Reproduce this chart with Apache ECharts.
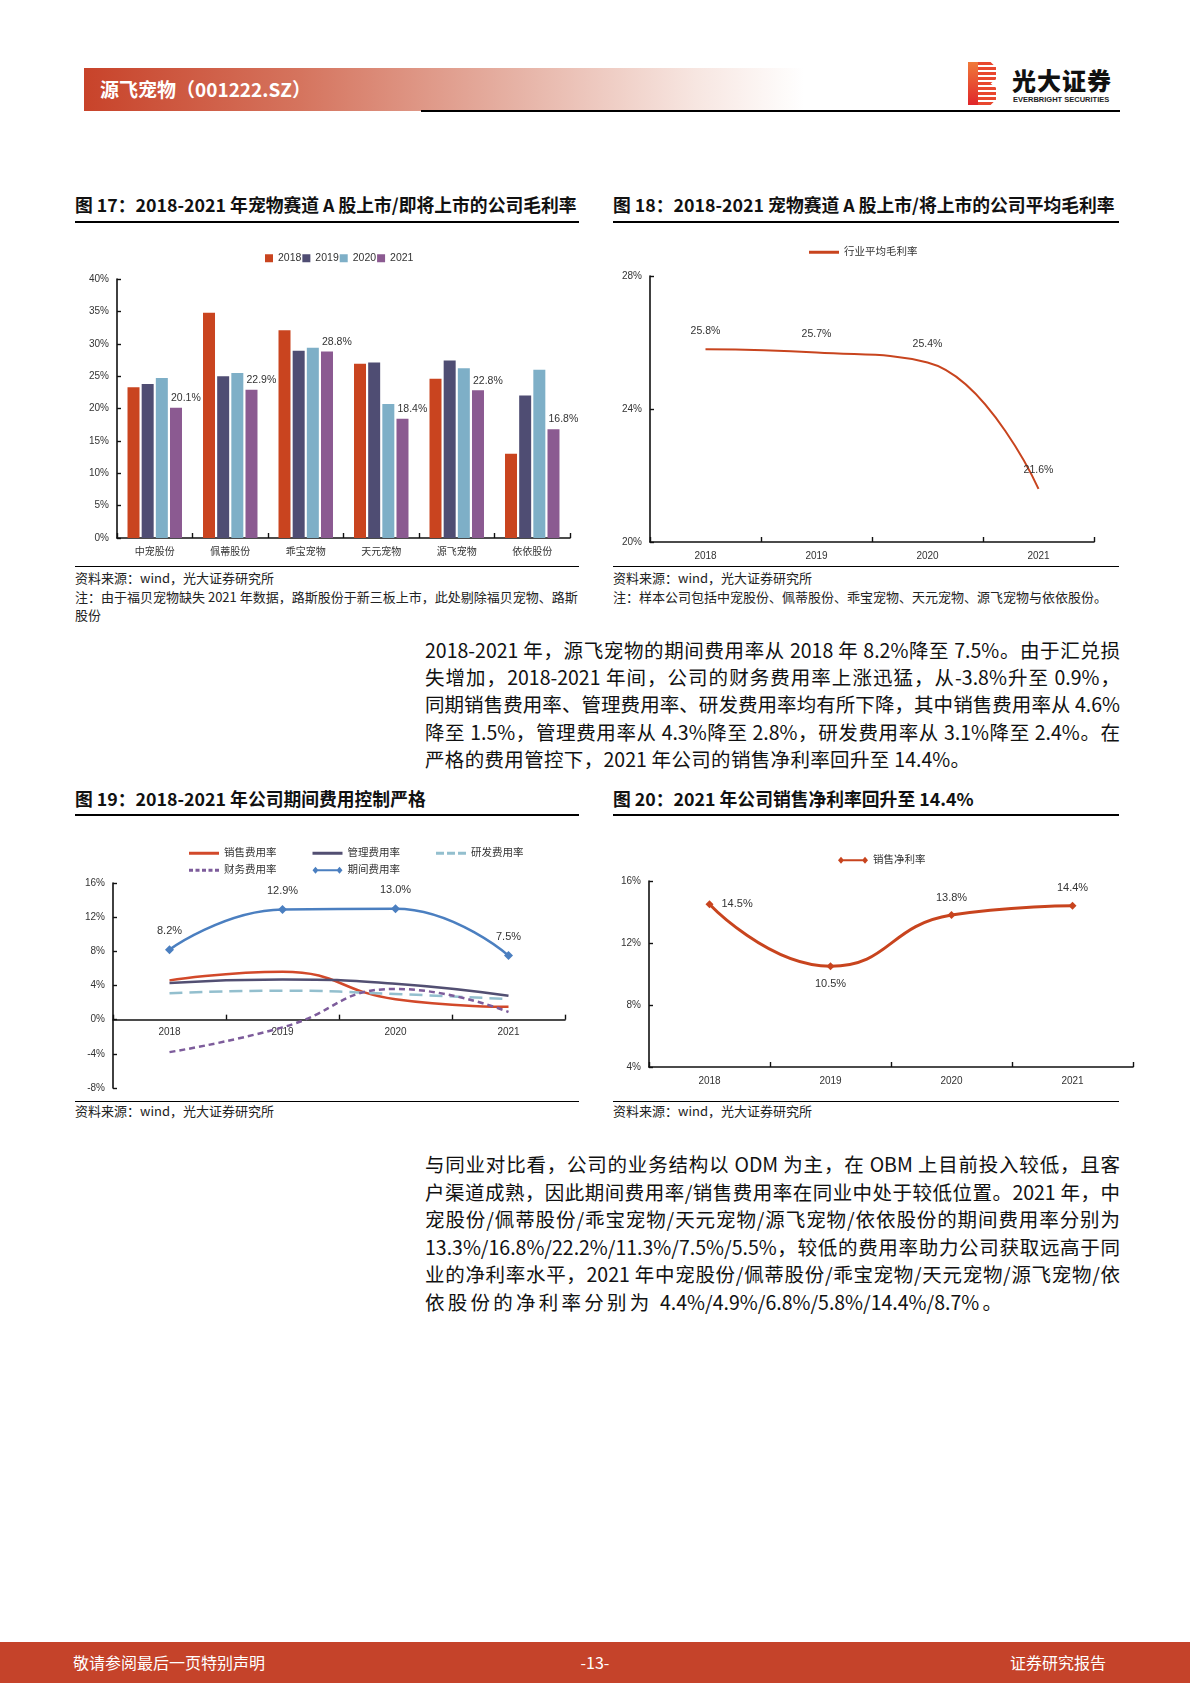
<!DOCTYPE html>
<html><head><meta charset="utf-8">
<script src="https://cdn.jsdelivr.net/npm/echarts@6/dist/echarts.min.js"></script>
<style>
body{margin:0;background:#fff;width:1190px;height:1683px;position:relative;overflow:hidden;font-family:"Noto Sans CJK SC","Noto Sans",sans-serif;color:#000}
.abs{position:absolute}
.title{position:absolute;font-weight:bold;font-size:17.8px;line-height:20px;white-space:nowrap;color:#111}
.rule{position:absolute;height:1.5px;background:#000}
.src{position:absolute;font-size:13px;line-height:16px;color:#222;white-space:nowrap}
.p{position:absolute;left:425px;width:695px;font-size:19.5px;line-height:24px;white-space:nowrap;text-align:justify;text-align-last:justify;color:#111}
.chart{position:absolute}
</style></head>
<body>
<!-- header -->
<div class="abs" style="left:84px;top:68px;width:720px;height:43px;background:linear-gradient(to right,#C8432A 0%,#D5745E 30%,#E6B2A5 60%,#F7E6E1 85%,rgba(255,255,255,0) 100%)"></div>
<div class="abs" style="left:100px;top:77px;font-size:19px;line-height:24px;font-weight:bold;color:#fff;white-space:nowrap">源飞宠物（001222.SZ）</div>
<div class="abs" style="left:421px;top:110px;width:699px;height:2px;background:#000"></div>
<div class="abs" style="left:968px;top:62px;width:10px;height:43px;background:linear-gradient(to bottom,#F07A3A,#E0262A)"></div>
<div class="abs" style="left:978px;top:62px;width:18px;height:43px;background:repeating-linear-gradient(to bottom,#E8472E 0px,#E8472E 3px,#fff 3px,#fff 5px);clip-path:polygon(0 0,70% 0,100% 12%,100% 40%,70% 50%,100% 60%,100% 88%,70% 100%,0 100%)"></div>
<div class="abs" style="left:1012px;top:66px;font-size:24px;line-height:28px;font-weight:900;color:#111;white-space:nowrap;letter-spacing:1px">光大证券</div>
<div class="abs" style="left:1013px;top:95px;font-size:7.5px;line-height:9px;font-weight:bold;color:#222;white-space:nowrap;font-family:'Liberation Sans',Arial,sans-serif">EVERBRIGHT SECURITIES</div>

<!-- chart titles -->
<div class="title" style="left:75px;top:194px">图 17：2018-2021 年宠物赛道 A 股上市/即将上市的公司毛利率</div>
<div class="rule" style="left:75px;top:221px;width:504px"></div>
<div class="title" style="left:613px;top:194px">图 18：2018-2021 宠物赛道 A 股上市/将上市的公司平均毛利率</div>
<div class="rule" style="left:613px;top:221px;width:506px"></div>

<div id="c17" class="chart" style="left:60px;top:225px;width:530px;height:340px"></div>
<div id="c18" class="chart" style="left:590px;top:225px;width:530px;height:340px"></div>

<div class="rule" style="left:75px;top:566px;width:504px;height:1px"></div>
<div class="rule" style="left:613px;top:566px;width:506px;height:1px"></div>
<div class="src" style="left:75px;top:570px">资料来源：wind，光大证券研究所</div>
<div class="src" style="left:75px;top:589px">注：由于福贝宠物缺失 2021 年数据，路斯股份于新三板上市，此处剔除福贝宠物、路斯</div>
<div class="src" style="left:75px;top:607px">股份</div>
<div class="src" style="left:613px;top:570px">资料来源：wind，光大证券研究所</div>
<div class="src" style="left:613px;top:589px">注：样本公司包括中宠股份、佩蒂股份、乖宝宠物、天元宠物、源飞宠物与依依股份。</div>

<!-- paragraph 1 -->
<div class="p" style="top:638px">2018-2021 年，源飞宠物的期间费用率从 2018 年 8.2%降至 7.5%。由于汇兑损</div>
<div class="p" style="top:665px">失增加，2018-2021 年间，公司的财务费用率上涨迅猛，从-3.8%升至 0.9%，</div>
<div class="p" style="top:692px">同期销售费用率、管理费用率、研发费用率均有所下降，其中销售费用率从 4.6%</div>
<div class="p" style="top:720px">降至 1.5%，管理费用率从 4.3%降至 2.8%，研发费用率从 3.1%降至 2.4%。在</div>
<div class="p" style="top:747px;width:545px">严格的费用管控下，2021 年公司的销售净利率回升至 14.4%。</div>

<div class="title" style="left:75px;top:788px">图 19：2018-2021 年公司期间费用控制严格</div>
<div class="rule" style="left:75px;top:814px;width:504px"></div>
<div class="title" style="left:613px;top:788px">图 20：2021 年公司销售净利率回升至 14.4%</div>
<div class="rule" style="left:613px;top:814px;width:506px"></div>

<div id="c19" class="chart" style="left:60px;top:825px;width:530px;height:274px"></div>
<div id="c20" class="chart" style="left:590px;top:825px;width:560px;height:274px"></div>

<div class="rule" style="left:75px;top:1101px;width:504px;height:1px"></div>
<div class="rule" style="left:613px;top:1101px;width:506px;height:1px"></div>
<div class="src" style="left:75px;top:1103px">资料来源：wind，光大证券研究所</div>
<div class="src" style="left:613px;top:1103px">资料来源：wind，光大证券研究所</div>

<!-- paragraph 2 -->
<div class="p" style="top:1152px">与同业对比看，公司的业务结构以 ODM 为主，在 OBM 上目前投入较低，且客</div>
<div class="p" style="top:1180px">户渠道成熟，因此期间费用率/销售费用率在同业中处于较低位置。2021 年，中</div>
<div class="p" style="top:1207px">宠股份/佩蒂股份/乖宝宠物/天元宠物/源飞宠物/依依股份的期间费用率分别为</div>
<div class="p" style="top:1235px">13.3%/16.8%/22.2%/11.3%/7.5%/5.5%，较低的费用率助力公司获取远高于同</div>
<div class="p" style="top:1262px">业的净利率水平，2021 年中宠股份/佩蒂股份/乖宝宠物/天元宠物/源飞宠物/依</div>
<div class="p" style="top:1290px;width:577px">依股份的净利率分别为 4.4%/4.9%/6.8%/5.8%/14.4%/8.7%。</div>

<!-- footer -->
<div class="abs" style="left:0;top:1642px;width:1190px;height:41px;background:#C5432A"></div>
<div class="abs" style="left:73px;top:1651px;font-size:16px;line-height:22px;color:#fff;white-space:nowrap">敬请参阅最后一页特别声明</div>
<div class="abs" style="left:575px;top:1651px;width:40px;text-align:center;font-size:16px;line-height:22px;color:#fff">-13-</div>
<div class="abs" style="left:1010px;top:1651px;width:96px;text-align:right;font-size:16px;line-height:22px;color:#fff;white-space:nowrap">证券研究报告</div>

<script>
// ---------------- data ----------------
const companies = ['中宠股份', '佩蒂股份', '乖宝宠物', '天元宠物', '源飞宠物', '依依股份'];
const years = ['2018', '2019', '2020', '2021'];
const gm2018 = [23.3, 34.8, 32.1, 26.9, 24.6, 13.0];
const gm2019 = [23.8, 25.0, 28.9, 27.1, 27.4, 22.0];
const gm2020 = [24.7, 25.5, 29.4, 20.7, 26.2, 26.0];
const gm2021 = [20.1, 22.9, 28.8, 18.4, 22.8, 16.8];
const avgGrossMargin = [25.8, 25.7, 25.4, 21.6];
const salesExpRate = [4.6, 5.6, 2.4, 1.5];
const adminExpRate = [4.3, 4.7, 4.2, 2.8];
const rdExpRate = [3.1, 3.4, 3.0, 2.4];
const finExpRate = [-3.8, -0.9, 3.6, 0.9];
const periodExpRate = [8.2, 12.9, 13.0, 7.5];
const netMargin = [14.5, 10.5, 13.8, 14.4];

// ---------------- styles ----------------
const FONT = '"Liberation Sans", Arial, "Noto Sans CJK SC", sans-serif';
const AXC = '#111';
const pct1 = p => Number(p.value).toFixed(1) + '%';
// legend icons (30 wide)
const ICON_SOLID = 'path://M0,0H30V3H0Z';
const ICON_LONGDASH = 'path://M0,0H8V3H0Z M11,0H19V3H11Z M22,0H30V3H22Z';
const ICON_SHORTDASH = 'path://M0,0H4V3H0Z M6.5,0H10.5V3H6.5Z M13,0H17V3H13Z M19.5,0H23.5V3H19.5Z M26,0H30V3H26Z';
const ICON_DIAMONDS = 'path://M3,4H27V6H3Z M0,5L3,1.5L6,5L3,8.5Z M24,5L27,1.5L30,5L27,8.5Z';

function valAxis(min, max, interval, margin) {
  return {
    type: 'value', min, max, interval,
    axisLine: { show: true, lineStyle: { color: AXC, width: 1.6 } },
    axisTick: { show: true, inside: true, length: 4, lineStyle: { color: AXC, width: 1.4 } },
    axisLabel: { formatter: '{value}%', fontSize: 10, color: '#333', margin: margin || 8, fontFamily: FONT },
    splitLine: { show: false }
  };
}
function catAxis(data, fs, margin) {
  return {
    type: 'category', data, boundaryGap: true,
    axisLine: { show: true, lineStyle: { color: AXC, width: 1.6 } },
    axisTick: { show: true, inside: true, length: 5, alignWithLabel: false, lineStyle: { color: AXC, width: 1.4 } },
    axisLabel: { fontSize: fs || 10, color: '#333', margin: margin === undefined ? 9 : margin, fontFamily: FONT }
  };
}

// Chart 17
const c17 = echarts.init(document.getElementById('c17'));
const barColors = ['#C9441F', '#4F4D73', '#7EAFC7', '#8B5A91'];
const gmSeries = [gm2018, gm2019, gm2020, gm2021];
c17.setOption({
  animation: false,
  textStyle: { fontFamily: FONT },
  legend: { left: 200, top: 23, itemWidth: 8, itemHeight: 8, itemGap: 1, icon: 'rect',
    textStyle: { fontSize: 10.5, color: '#333' }, data: years },
  grid: { left: 57, top: 54, width: 453, height: 259 },
  xAxis: catAxis(companies, 10, 9),
  yAxis: valAxis(0, 40, 5, 8),
  series: gmSeries.map((d, i) => ({
    name: years[i], type: 'bar', data: d, barWidth: 12, barGap: '18%',
    itemStyle: { color: barColors[i] },
    label: i === 3 ? { show: true, position: [1, -15], formatter: pct1, fontSize: 10.5, color: '#333', fontFamily: FONT } : { show: false }
  }))
});

// Chart 18
const c18 = echarts.init(document.getElementById('c18'));
c18.setOption({
  animation: false,
  textStyle: { fontFamily: FONT },
  legend: { left: 214, top: 17, itemWidth: 30, itemHeight: 10,
    data: [{ name: '行业平均毛利率', icon: ICON_SOLID }],
    textStyle: { fontSize: 10.5, color: '#333' } },
  grid: { left: 60, top: 51, width: 444, height: 266 },
  xAxis: catAxis(years, 10, 9),
  yAxis: valAxis(20, 28, 4, 8),
  series: [{
    name: '行业平均毛利率', type: 'line', data: avgGrossMargin, smooth: 0.45,
    symbol: 'circle', symbolSize: 0.1, showSymbol: true,
    lineStyle: { color: '#C8441E', width: 2 }, itemStyle: { color: '#C8441E' },
    label: { show: true, position: 'top', distance: 13, formatter: pct1, fontSize: 10.5, color: '#333' }
  }]
});

// Chart 19
const c19 = echarts.init(document.getElementById('c19'));
const legTxt = { fontSize: 10.5, color: '#333' };
c19.setOption({
  animation: false,
  textStyle: { fontFamily: FONT },
  legend: [
    { left: 124, top: 18, itemWidth: 30, itemHeight: 10, itemGap: 36, textStyle: legTxt,
      data: [{ name: '销售费用率', icon: ICON_SOLID }, { name: '管理费用率', icon: ICON_SOLID }, { name: '研发费用率', icon: ICON_LONGDASH }] },
    { left: 124, top: 35, itemWidth: 30, itemHeight: 10, itemGap: 36, textStyle: legTxt,
      data: [{ name: '财务费用率', icon: ICON_SHORTDASH }, { name: '期间费用率', icon: ICON_DIAMONDS }] }
  ],
  grid: { left: 53, top: 58, width: 452, height: 205 },
  xAxis: catAxis(years, 10, -61),
  yAxis: valAxis(-8, 16, 4, 8),
  series: [
    { name: '销售费用率', type: 'line', data: salesExpRate, smooth: 0.5, symbol: 'none',
      lineStyle: { color: '#D2492A', width: 2.5 }, itemStyle: { color: '#D2492A' } },
    { name: '管理费用率', type: 'line', data: adminExpRate, smooth: 0.5, symbol: 'none',
      lineStyle: { color: '#524F72', width: 2.5 }, itemStyle: { color: '#524F72' } },
    { name: '研发费用率', type: 'line', data: rdExpRate, smooth: 0.5, symbol: 'none',
      lineStyle: { color: '#93BFCE', width: 2.5, type: [13, 7] }, itemStyle: { color: '#93BFCE' } },
    { name: '财务费用率', type: 'line', data: finExpRate, smooth: 0.5, symbol: 'none',
      lineStyle: { color: '#7D5C9B', width: 2.5, type: [6, 4] }, itemStyle: { color: '#7D5C9B' } },
    { name: '期间费用率', type: 'line', data: periodExpRate, smooth: 0.5, symbol: 'diamond', symbolSize: 9,
      z: 5, lineStyle: { color: '#4B7FC0', width: 2.5 }, itemStyle: { color: '#4B7FC0' },
      label: { show: true, position: 'top', distance: 9, formatter: pct1, fontSize: 11, color: '#333' } }
  ]
});

// Chart 20
const c20 = echarts.init(document.getElementById('c20'));
const netLabelPos = ['right', 'bottom', 'top', 'top'];
c20.setOption({
  animation: false,
  textStyle: { fontFamily: FONT },
  legend: { left: 243, top: 25, itemWidth: 30, itemHeight: 10,
    data: [{ name: '销售净利率', icon: ICON_DIAMONDS }],
    textStyle: { fontSize: 10.5, color: '#333' } },
  grid: { left: 59, top: 56, width: 484, height: 186 },
  xAxis: catAxis(years, 10, 9),
  yAxis: valAxis(4, 16, 4, 8),
  series: [{
    name: '销售净利率', type: 'line', smooth: 0.5, symbol: 'diamond', symbolSize: 8,
    data: netMargin.map((v, i) => ({ value: v, label: { position: netLabelPos[i] } })),
    lineStyle: { color: '#C8441E', width: 3 }, itemStyle: { color: '#C8441E' },
    label: { show: true, distance: 8, formatter: pct1, fontSize: 11, color: '#333' }
  }]
});
</script>
</body></html>
